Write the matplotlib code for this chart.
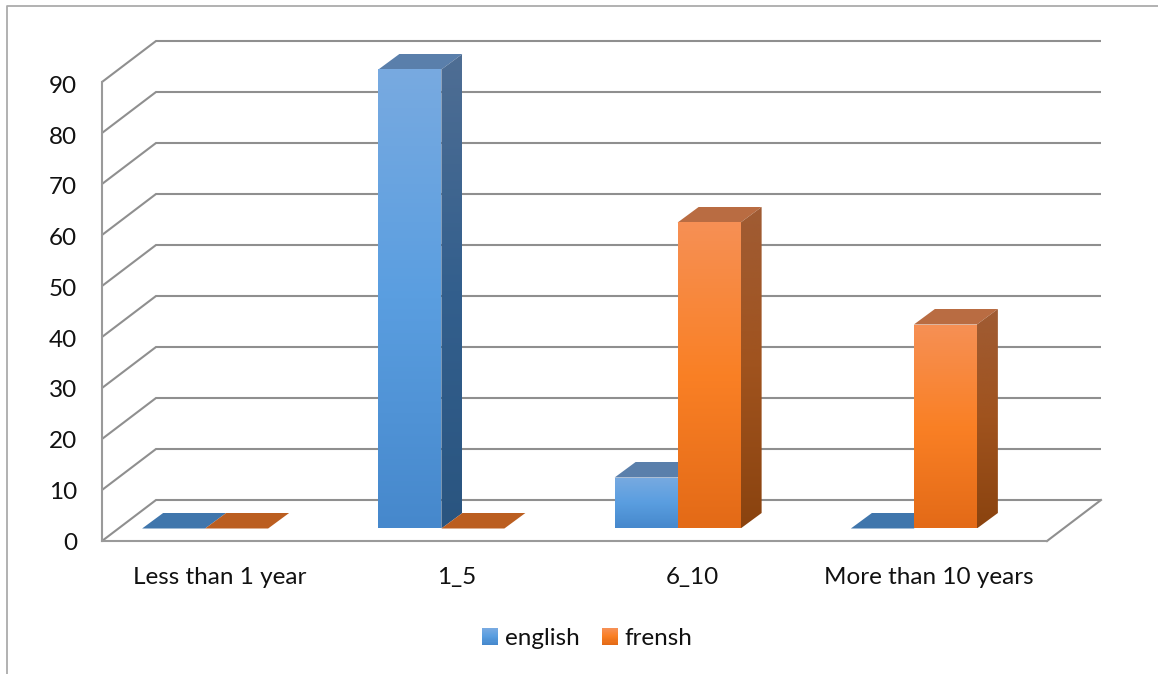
import numpy as np
import matplotlib
matplotlib.use("Agg")
import matplotlib.pyplot as plt
from matplotlib.colors import LinearSegmentedColormap
from matplotlib.lines import Line2D
from matplotlib.patches import Polygon, Rectangle
from matplotlib.legend_handler import HandlerBase
from matplotlib.transforms import ScaledTranslation

categories = ["Less than 1 year", "1_5", "6_10", "More than 10 years"]
english = [0, 90, 10, 0]
frensh = [0, 0, 60, 40]
y_ticks = list(range(0, 100, 10))

W, H = 1158, 674
plt.rcParams["font.family"] = ["Lato", "DejaVu Sans"]
FS = 17.5
GRID = "#8f8f8f"
TEXT = "#111111"

STY = {
    "english": dict(front=["#78AAE1", "#5A9EE0", "#4688CC"], side=["#4F6E94", "#335F8D", "#2A5580"],
                    top="#5A7FAB", flat="#4076AC"),
    "frensh": dict(front=["#F69055", "#FA8025", "#E36A17"], side=["#A05C34", "#A0531E", "#8A430F"],
                   top="#B96C42", flat="#BB5E20"),
}

fig = plt.figure(figsize=(W / 100, H / 100), dpi=100, facecolor="white")
ax = fig.add_axes([102 / W, 1 - 541 / H, (1047 - 102) / W, (541 - 82) / H])
ax.set_xlim(-0.5, 3.5)
ax.set_ylim(0, 90)
ax.patch.set_visible(False)

px_x = 945 / 4          # pixels per category
px_y = 459 / 90         # pixels per value unit

# wall depth and bar geometry, as offsets in data units
wall_dx, wall_dy = 54 / px_x, 41 / px_y
bar_w = 63 / px_x
depth_x, depth_y = 21 / px_x, 15.5 / px_y
base = 12.5 / px_y
pair_shift = -15 / px_x

# walls / gridlines
for v in y_ticks:
    ax.plot([-0.5, -0.5 + wall_dx, 3.5 + wall_dx], [v, v + wall_dy, v + wall_dy],
            color=GRID, lw=1.5, clip_on=False, zorder=1, solid_joinstyle="miter", solid_capstyle="butt")
ax.plot([3.5, 3.5 + wall_dx], [0, wall_dy], color=GRID, lw=1.5, clip_on=False, zorder=1)

for s in ("top", "right"):
    ax.spines[s].set_visible(False)
for s in ("left", "bottom"):
    ax.spines[s].set_color("#9a9a9a")
    ax.spines[s].set_linewidth(1.5)
    ax.spines[s].set_zorder(1.5)

ax.set_yticks(y_ticks)
ax.set_xticks(range(len(categories)))
ax.set_xticklabels(categories)
ax.tick_params(axis="both", length=0, labelsize=FS, labelcolor=TEXT)
ax.tick_params(axis="y", pad=18)
ax.tick_params(axis="x", pad=18.5)
for lab, v in zip(ax.get_yticklabels(), y_ticks):
    lab.set_transform(lab.get_transform() + ScaledTranslation(0, -(v / 90) * 2.5 / 100, fig.dpi_scale_trans))


def gradient(poly, colors, y0, y1, z):
    cmap = LinearSegmentedColormap.from_list("g", colors)
    xs = [p[0] for p in poly]
    im = ax.imshow(np.linspace(0, 1, 256)[:, None], cmap=cmap, aspect="auto", origin="upper",
                   extent=[min(xs), max(xs), y0, y1], zorder=z, interpolation="bilinear")
    clip = Polygon(poly, closed=True, transform=ax.transData, fc="none", ec="none")
    im.set_clip_path(clip)
    im.set_clip_box(fig.bbox)


def bar3d(i, side, value, name, z):
    st = STY[name]
    x0 = i + pair_shift + (-bar_w if side == 0 else 0)
    x1 = x0 + bar_w
    top = base + value
    color = st["top"] if value > 0 else st["flat"]
    ax.add_patch(Polygon([(x0, top), (x1, top), (x1 + depth_x, top + depth_y), (x0 + depth_x, top + depth_y)],
                         closed=True, fc=color, ec="none", clip_on=False, zorder=z))
    if value > 0:
        gradient([(x1, base), (x1 + depth_x, base + depth_y), (x1 + depth_x, top + depth_y), (x1, top)],
                 st["side"], base, top + depth_y, z)
        gradient([(x0, base), (x1, base), (x1, top), (x0, top)], st["front"], base, top, z + 0.1)


for i, (e, f) in enumerate(zip(english, frensh)):
    bar3d(i, 0, e, "english", 3 + i)
    bar3d(i, 1, f, "frensh", 3.5 + i)

ax.set_xlim(-0.5, 3.5)
ax.set_ylim(0, 90)


class GradHandler(HandlerBase):
    def __init__(self, colors):
        super().__init__()
        self.colors = colors

    def create_artists(self, legend, orig, xd, yd, width, height, fontsize, trans):
        cmap = LinearSegmentedColormap.from_list("g", self.colors)
        n = 16
        out = []
        for k in range(n):
            out.append(Rectangle((-xd, -yd + height * (n - 1 - k) / n), width, height / n + 0.05,
                                 fc=cmap(k / (n - 1)), ec="none", transform=trans, antialiased=False))
        return out


h_e = Rectangle((0, 0), 1, 1, label="english")
h_f = Rectangle((0, 0), 1, 1, label="frensh")
fig.legend(handles=[h_e, h_f], ncols=2, frameon=False, fontsize=FS,
           loc="center", bbox_to_anchor=(587.5 / W, 1 - 638.5 / H), labelcolor=TEXT,
           handlelength=11.5 / FS, handleheight=11.5 / FS, handletextpad=0.27, columnspacing=0.92,
           borderpad=0, borderaxespad=0,
           handler_map={h_e: GradHandler(STY["english"]["front"]), h_f: GradHandler(STY["frensh"]["front"])})

# outer chart frame (open at right and bottom, cropped)
fig.add_artist(Line2D([7.5 / W, 7.5 / W, 1], [0, 1 - 5.5 / H, 1 - 5.5 / H], color="#ababab", lw=1.3,
                      transform=fig.transFigure))

fig.savefig("out.png", dpi=100, facecolor="white")
